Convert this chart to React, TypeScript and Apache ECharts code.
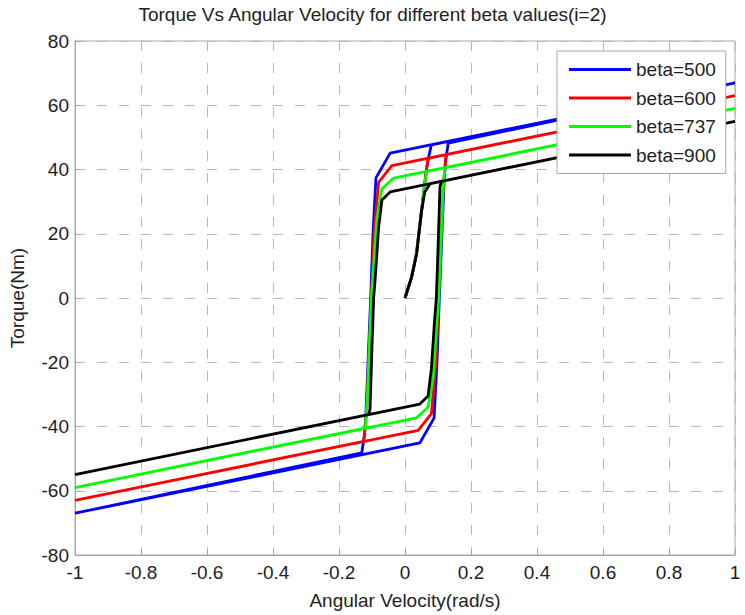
import React, { useEffect, useRef } from "react";
import * as echarts from "echarts";

const TITLE = "Torque Vs Angular Velocity for different beta values(i=2)";
const X_NAME = "Angular Velocity(rad/s)";
const Y_NAME = "Torque(Nm)";
const SERIES_NAMES = ["beta=500", "beta=600", "beta=737", "beta=900"];
const SERIES_COLORS = ["#0000ff", "#ff0000", "#00ff00", "#000000"];

// [angular velocity, torque] in traversal order
const beta500: [number, number][] = [
  [0, 0], [0.02, 6.5], [0.035, 14], [0.05, 27], [0.058, 34], [0.065, 40], [0.072, 44], [0.08, 47.7],
  [1, 67],
  [-0.045, 45.1], [-0.088, 37.4], [-0.097, 20], [-0.104, 0], [-0.112, -20], [-0.118, -35], [-0.122, -42], [-0.131, -48.2],
  [-1, -67],
  [0.045, -45.1], [0.088, -37.4], [0.097, -20], [0.104, 0], [0.112, 20], [0.118, 35], [0.122, 42], [0.131, 48.2],
  [1, 67],
];

const beta600: [number, number][] = [
  [0, 0], [0.02, 6.5], [0.035, 14], [0.05, 27], [0.058, 34], [0.065, 40], [0.07, 43.5],
  [1, 63],
  [-0.04, 41.2], [-0.08, 36], [-0.094, 20], [-0.102, 0], [-0.11, -20], [-0.117, -36], [-0.125, -44.6],
  [-1, -63],
  [0.04, -41.2], [0.08, -36], [0.094, -20], [0.102, 0], [0.11, 20], [0.117, 36], [0.125, 44.6],
  [1, 63],
];

const beta737: [number, number][] = [
  [0, 0], [0.02, 6.5], [0.035, 14], [0.05, 27], [0.058, 34], [0.062, 37], [0.066, 39.4],
  [1, 59],
  [-0.035, 37.3], [-0.07, 34], [-0.085, 25], [-0.095, 10], [-0.102, 0], [-0.11, -20], [-0.115, -33], [-0.12, -40.5],
  [-1, -59],
  [0.035, -37.3], [0.07, -34], [0.085, -25], [0.095, -10], [0.102, 0], [0.11, 20], [0.115, 33], [0.12, 40.5],
  [1, 59],
];

const beta900: [number, number][] = [
  [0, 0], [0.02, 6.5], [0.035, 13.6], [0.05, 27], [0.06, 33], [0.076, 35.6],
  [1, 55],
  [-0.045, 33], [-0.07, 30.5], [-0.08, 22], [-0.09, 6.5], [-0.095, 0], [-0.1, -15], [-0.106, -34.5], [-0.11, -36.3],
  [-1, -55],
  [0.045, -33], [0.07, -30.5], [0.08, -22], [0.09, -6.5], [0.095, 0], [0.1, 15], [0.106, 34.5], [0.11, 36.3],
  [1, 55],
];

const SERIES_DATA = [beta500, beta600, beta737, beta900];

const X_MIN = -1;
const X_MAX = 1;
const X_STEP = 0.2;
const Y_MIN = -80;
const Y_MAX = 80;
const Y_STEP = 20;

const FONT = '"Liberation Sans", Arial, sans-serif';
const TEXT = "#222222";

export default function App() {
  const ref = useRef<HTMLDivElement>(null);

  useEffect(() => {
    if (!ref.current) return;
    const chart = echarts.init(ref.current, null, { renderer: "svg" });
    const gridLine = {
      show: true,
      lineStyle: { color: "#b8b8b8", width: 1, type: [10, 12] as any },
    };
    chart.setOption({
      animation: false,
      backgroundColor: "#ffffff",
      title: {
        text: TITLE,
        left: "center",
        top: 0,
        textStyle: { fontFamily: FONT, fontSize: 19, fontWeight: "normal", color: TEXT },
      },
      grid: {
        left: 75,
        right: 10,
        top: 41,
        bottom: 54,
        show: true,
        borderColor: "#a8a8a8",
        borderWidth: 1,
        backgroundColor: "#ffffff",
      },
      legend: {
        data: SERIES_NAMES.map((n) => ({ name: n, icon: "rect" })),
        orient: "vertical",
        left: 557,
        top: 51,
        z: 20,
        itemWidth: 62,
        itemHeight: 3,
        itemGap: 7.5,
        padding: [8, 10, 8, 12],
        backgroundColor: "#ffffff",
        borderColor: "#a8a8a8",
        borderWidth: 1,
        textStyle: { fontFamily: FONT, fontSize: 19, color: TEXT, lineHeight: 21 },
      },
      xAxis: {
        type: "value",
        min: X_MIN,
        max: X_MAX,
        interval: X_STEP,
        name: X_NAME,
        nameLocation: "middle",
        nameGap: 36,
        nameTextStyle: { fontFamily: FONT, fontSize: 19, color: TEXT },
        axisLine: { show: true, onZero: false, lineStyle: { color: "#a8a8a8" } },
        axisTick: { show: true, inside: true, length: 5, lineStyle: { color: "#a8a8a8" } },
        axisLabel: { fontFamily: FONT, fontSize: 19, color: TEXT, margin: 8 },
        splitLine: gridLine,
      },
      yAxis: {
        type: "value",
        min: Y_MIN,
        max: Y_MAX,
        interval: Y_STEP,
        name: Y_NAME,
        nameLocation: "middle",
        nameGap: 48,
        nameTextStyle: { fontFamily: FONT, fontSize: 19, color: TEXT },
        axisLine: { show: true, onZero: false, lineStyle: { color: "#a8a8a8" } },
        axisTick: { show: true, inside: true, length: 5, lineStyle: { color: "#a8a8a8" } },
        axisLabel: { fontFamily: FONT, fontSize: 19, color: TEXT, margin: 6 },
        splitLine: gridLine,
      },
      series: SERIES_DATA.map((data, i) => ({
        name: SERIES_NAMES[i],
        type: "line",
        data,
        symbol: "none",
        smooth: false,
        lineStyle: { color: SERIES_COLORS[i], width: 2.8 },
        itemStyle: { color: SERIES_COLORS[i] },
      })),
    });
    return () => chart.dispose();
  }, []);

  return (
    <div
      ref={ref}
      style={{ position: "fixed", left: 0, top: 0, width: 745, height: 615, background: "#fff" }}
    />
  );
}
